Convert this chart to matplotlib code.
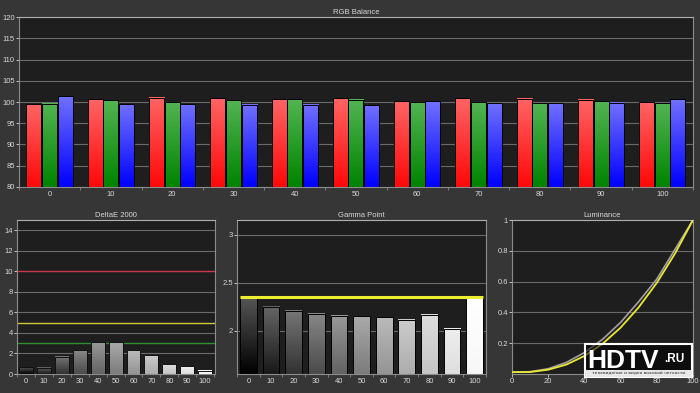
import matplotlib
matplotlib.use('Agg')
import matplotlib.pyplot as plt
import numpy as np
from matplotlib.colors import LinearSegmentedColormap
from matplotlib.patches import Rectangle

# ---- data ----
levels = [0, 10, 20, 30, 40, 50, 60, 70, 80, 90, 100]
rgb_red = [99.45, 100.6, 101.0, 100.9, 100.6, 100.9, 100.2, 100.9, 100.8, 100.5, 99.9]
rgb_green = [99.6, 100.4, 99.9, 100.4, 100.6, 100.5, 99.9, 99.9, 99.7, 100.2, 99.7]
rgb_blue = [101.3, 99.45, 99.5, 99.4, 99.4, 99.2, 100.2, 99.7, 99.7, 99.8, 100.6]

delta_e = [0.65, 0.6, 1.7, 2.3, 3.1, 3.1, 2.3, 1.85, 0.95, 0.75, 0.33]
de_limits = {10: '#c8384a', 5: '#cfc83a', 3: '#2f8f2f'}

gamma = [2.34, 2.25, 2.21, 2.18, 2.155, 2.15, 2.14, 2.115, 2.17, 2.02, 2.345]
gamma_target = 2.35

lum_x = [0, 10, 20, 30, 40, 50, 60, 70, 80, 90, 100]
lum_measured = [0.012, 0.015, 0.034, 0.075, 0.139, 0.225, 0.335, 0.470, 0.616, 0.808, 1.0]
lum_target = [0.012, 0.013, 0.028, 0.061, 0.117, 0.196, 0.301, 0.433, 0.592, 0.781, 1.0]

# ---- style ----
BG = '#363636'
FACE = '#1e1e1e'
GRID = '#6a6a6a'
SPINE = '#8c8c8c'
TXT = '#d8d8d8'
FS = 5.5
plt.rcParams['font.family'] = ['Liberation Sans', 'DejaVu Sans']


def grad_bar(ax, x, top, width, col_top, col_bot, base, edge='black'):
    cmap = LinearSegmentedColormap.from_list('g', [col_bot, col_top])
    grad = np.linspace(0, 1, 64)[:, None]
    ax.imshow(grad, cmap=cmap, origin='lower', aspect='auto', zorder=2,
              extent=(x - width / 2, x + width / 2, base, top))
    ax.bar(x, top - base, width, bottom=base, color='none',
           edgecolor=edge, lw=0.7, zorder=3)


def style_axes(ax, title):
    ax.set_facecolor(FACE)
    for s in ax.spines.values():
        s.set_color(SPINE)
        s.set_linewidth(0.8)
    ax.spines['top'].set_color('#b0b0b0')
    ax.tick_params(colors=TXT, labelsize=FS, length=2, width=0.6, pad=1)
    ax.tick_params(which='minor', colors=SPINE, length=2.5, width=0.6)
    ax.set_title(title, color=TXT, fontsize=FS, pad=2)


def cat_axis(ax, n):
    ax.set_xticks(range(n))
    ax.set_xticklabels([str(v) for v in levels])
    ax.tick_params(axis='x', which='major', length=0, pad=3)
    ax.set_xticks(np.arange(-0.5, n, 1), minor=True)


def grays(i, n):
    lv = i / (n - 1)
    top = 0.33 + 0.67 * lv
    bot = lv * 0.97
    return (top, top, top), (bot, bot, bot)


fig = plt.figure(figsize=(7, 3.93), dpi=100, facecolor=BG)

# ---- RGB balance ----
ax = fig.add_axes([0.0271, 0.5242, 0.9629, 0.4325])
style_axes(ax, 'RGB Balance')
n = len(levels)
bw = 0.255
cols = [(rgb_red, '#ff6464', '#ff0808'),
        (rgb_green, '#52b452', '#008400'),
        (rgb_blue, '#7070ff', '#0000ff')]
for k, (vals, ct, cb) in enumerate(cols):
    for i, v in enumerate(vals):
        grad_bar(ax, i + (k - 1) * bw, v, bw * 0.96, ct, cb, 80)
ax.set_ylim(80, 120)
ax.set_xlim(-0.5, 10.5)
ax.set_yticks(range(80, 121, 5))
for y in range(85, 120, 5):
    ax.axhline(y, color=GRID, lw=0.8, zorder=1)
cat_axis(ax, n)

# ---- DeltaE 2000 ----
ax = fig.add_axes([0.0243, 0.0483, 0.2829, 0.3919])
style_axes(ax, 'DeltaE 2000')
for y in range(2, 15, 2):
    if y not in de_limits:
        ax.axhline(y, color=GRID, lw=0.8, zorder=1)
for y, c in de_limits.items():
    ax.axhline(y, color=c, lw=1.0, zorder=1)
for i, v in enumerate(delta_e):
    ct, cb = grays(i, n)
    grad_bar(ax, i, v, 0.78, ct, cb, 0, edge='#101010')
ax.set_ylim(0, 15)
ax.set_xlim(-0.45, 10.55)
ax.set_yticks(range(0, 15, 2))
cat_axis(ax, n)

# ---- Gamma point ----
ax = fig.add_axes([0.3386, 0.0483, 0.3557, 0.3919])
style_axes(ax, 'Gamma Point')
for y in [2, 2.5, 3]:
    ax.axhline(y, color=GRID, lw=0.8, zorder=1)
for i, v in enumerate(gamma):
    ct, cb = grays(i, n)
    grad_bar(ax, i, v, 0.74, ct, cb, 1.55)
ax.plot([-0.37, 10.37], [gamma_target, gamma_target], color='#ecec30',
        lw=2.2, zorder=4, solid_capstyle='butt')
ax.set_ylim(1.55, 3.155)
ax.set_xlim(-0.49, 10.2)
ax.set_yticks([2, 2.5, 3])
ax.set_yticklabels(['2', '2.5', '3'])
cat_axis(ax, n)

# ---- Luminance ----
ax = fig.add_axes([0.7314, 0.0483, 0.2586, 0.3919])
style_axes(ax, 'Luminance')
for y in [0.2, 0.4, 0.6, 0.8]:
    ax.axhline(y, color=GRID, lw=0.8, zorder=1)
ax.plot(lum_x, lum_measured, color='#a7a0a7', lw=1.2, zorder=3)
ax.plot(lum_x, lum_target, color='#e8e832', lw=1.3, zorder=4)
ax.set_xlim(0, 100)
ax.set_ylim(0, 1)
ax.set_xticks(range(0, 101, 20))
ax.set_yticks([0.2, 0.4, 0.6, 0.8, 1])
ax.set_yticklabels(['0.2', '0.4', '0.6', '0.8', '1'])

# ---- watermark ----
fig.patches.append(Rectangle((0.836, 0.040), 0.153, 0.085, transform=fig.transFigure,
                             facecolor='#000000', alpha=0.55, edgecolor='none', zorder=5))
fig.patches.append(Rectangle((0.836, 0.040), 0.153, 0.085, transform=fig.transFigure,
                             facecolor='none', edgecolor='white', lw=1.5, zorder=6))
fig.patches.append(Rectangle((0.836, 0.040), 0.153, 0.018, transform=fig.transFigure,
                             facecolor='#e8e8e8', edgecolor='none', zorder=6))
fig.text(0.839, 0.063, 'HDTV', color='white', fontsize=19, fontweight='bold',
         family=['Liberation Sans Narrow', 'Liberation Sans'], zorder=7)
fig.text(0.949, 0.078, '.RU', color='white', fontsize=8.5, fontweight='bold', zorder=7)
fig.text(0.9125, 0.049, 'телевидение и видео высокой четкости', color='#222222',
         fontsize=3.2, ha='center', va='center', family=['DejaVu Sans'], zorder=7)

plt.savefig('out.png', dpi=100, facecolor=BG)
